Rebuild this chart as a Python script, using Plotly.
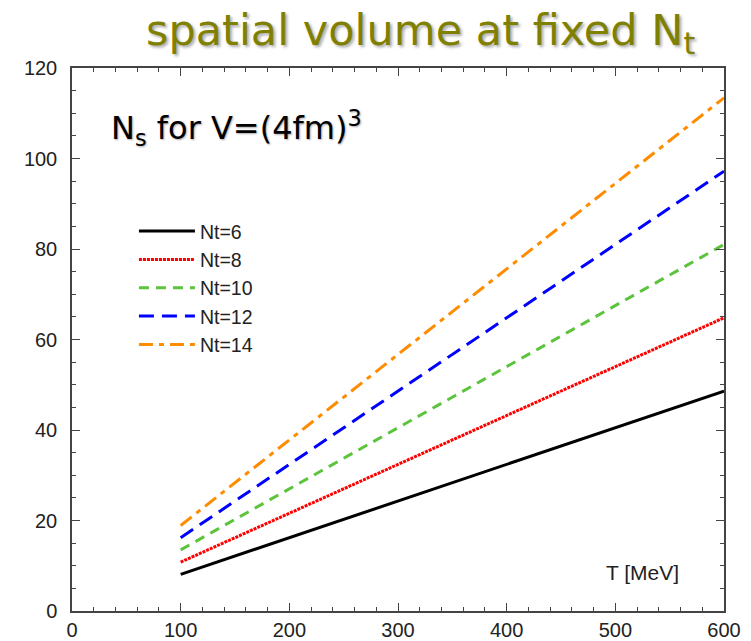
import plotly.graph_objects as go

# Data
T = [100, 600]
Nt_labels = ["Nt=6", "Nt=8", "Nt=10", "Nt=12", "Nt=14"]
Ns_values = [
    [8.1, 48.6],
    [10.8, 64.8],
    [13.5, 81.0],
    [16.2, 97.2],
    [18.9, 113.4],
]
colors = ["#000000", "#ff0000", "#5cc43c", "#0000ff", "#ff8c00"]
dashes = ["solid", "3px,1px", "10px,7px", "15px,8px", "14px,6px,5px,6px"]

x_ticks = [0, 100, 200, 300, 400, 500, 600]
y_ticks = [0, 20, 40, 60, 80, 100, 120]

fig = go.Figure()
for name, vals, c, d in zip(Nt_labels, Ns_values, colors, dashes):
    fig.add_trace(go.Scatter(x=T, y=vals, mode="lines", name=name,
                             line=dict(color=c, width=3, dash=d)))

axis_common = dict(showline=True, linecolor="#444", linewidth=1.5, mirror="allticks",
                   ticks="inside", ticklen=8, tickwidth=1.2, tickcolor="#444",
                   showgrid=False, zeroline=False, automargin=False,
                   tickfont=dict(family="Liberation Sans, Arial", size=20, color="#222"))

fig.update_xaxes(range=[0, 600], tickvals=x_ticks, ticklabelstandoff=0,
                 minor=dict(dtick=20, ticks="inside", ticklen=4, tickcolor="#444", showgrid=False),
                 **axis_common)
fig.update_yaxes(range=[0, 120], tickvals=y_ticks, ticklabelstandoff=9,
                 minor=dict(dtick=5, ticks="inside", ticklen=4, tickcolor="#444", showgrid=False),
                 **axis_common)

fig.update_layout(
    width=751, height=641,
    margin=dict(l=72, r=27, t=68, b=30, autoexpand=False),
    paper_bgcolor="white", plot_bgcolor="white",
    showlegend=True,
    legend=dict(x=0.095, y=0.735, xanchor="left", yanchor="top",
                bgcolor="rgba(0,0,0,0)", borderwidth=0, itemwidth=56,
                font=dict(family="Liberation Sans, Arial", size=19.5, color="#222"),
                tracegroupgap=0),
    annotations=[
        dict(text="spatial volume at fixed N<sub>t</sub>", xref="paper", yref="paper",
             x=0.535, y=1.0, xanchor="center", yanchor="bottom", yshift=5, showarrow=False,
             font=dict(family="DejaVu Sans", size=43, color="#808000",
                       shadow="2px 2px 3px #aaaaaa")),
        dict(text="N<sub>s</sub> for V=(4fm)<sup>3</sup>", xref="paper", yref="paper",
             x=0.057, y=0.89, xanchor="left", yanchor="middle", showarrow=False,
             font=dict(family="DejaVu Sans", size=32, color="#000",
                       shadow="1px 1px 2px #aaaaaa")),
        dict(text="T [MeV]", xref="paper", yref="paper",
             x=0.934, y=0.07, xanchor="right", yanchor="middle", showarrow=False,
             font=dict(family="Liberation Sans, Arial", size=21, color="#222")),
    ],
)

fig.write_html("out.html")
